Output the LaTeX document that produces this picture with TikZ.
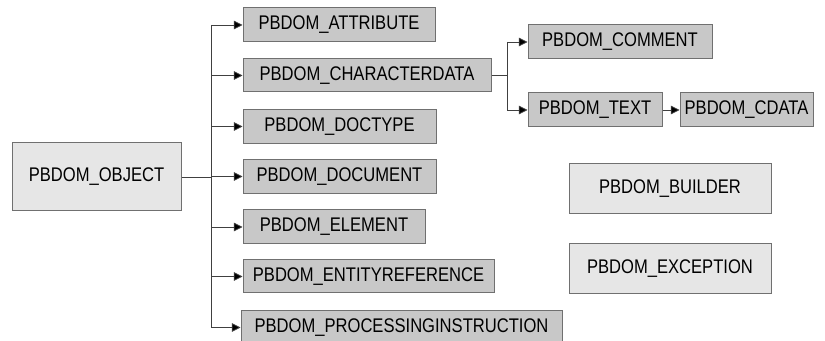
\documentclass[tikz,border=0pt]{standalone}
\usepackage{fontspec}
\setmainfont{Liberation Sans}[FakeStretch=0.84]
\usetikzlibrary{arrows.meta}
\definecolor{darkfill}{HTML}{C8C8C8}
\definecolor{lightfill}{HTML}{E6E6E6}
\definecolor{boxline}{HTML}{707070}
\definecolor{conline}{HTML}{404040}
\tikzset{
  box/.style={draw=boxline, line width=0.75pt, inner sep=0pt, font=\fontsize{14.8}{16}\selectfont, text=black},
  darkbox/.style={box, fill=darkfill},
  lightbox/.style={box, fill=lightfill},
  conn/.style={draw=conline, line width=0.6pt},
  arr/.style={conn, -{Triangle[length=6.5pt,width=6.5pt,fill=black]}},
}
\begin{document}
\begin{tikzpicture}[x=0.75pt, y=-0.75pt]
\useasboundingbox (0,0) rectangle (825,341);
\node[lightbox, minimum width=169*0.75pt, minimum height=68*0.75pt] (obj) at (96.5,177) {PBDOM\_OBJECT};
\node[darkbox, minimum width=192*0.75pt, minimum height=34*0.75pt] (attr) at (339,25) {PBDOM\_ATTRIBUTE};
\node[darkbox, minimum width=248*0.75pt, minimum height=33*0.75pt] (chd) at (367,75.5) {PBDOM\_CHARACTERDATA};
\node[darkbox, minimum width=193*0.75pt, minimum height=34*0.75pt] (dtp) at (339.5,126.5) {PBDOM\_DOCTYPE};
\node[darkbox, minimum width=193*0.75pt, minimum height=34*0.75pt] (doc) at (339.5,176.5) {PBDOM\_DOCUMENT};
\node[darkbox, minimum width=182*0.75pt, minimum height=34*0.75pt] (ele) at (334,227) {PBDOM\_ELEMENT};
\node[darkbox, minimum width=251*0.75pt, minimum height=33*0.75pt] (ent) at (368.5,276.5) {PBDOM\_ENTITYREFERENCE};
\node[darkbox, minimum width=321*0.75pt, minimum height=33*0.75pt] (pin) at (401.5,327.5) {PBDOM\_PROCESSINGINSTRUCTION};
\node[darkbox, minimum width=184*0.75pt, minimum height=34*0.75pt] (com) at (620,42) {PBDOM\_COMMENT};
\node[darkbox, minimum width=134*0.75pt, minimum height=34*0.75pt] (txt) at (595,110) {PBDOM\_TEXT};
\node[darkbox, minimum width=133*0.75pt, minimum height=34*0.75pt] (cda) at (746.5,110) {PBDOM\_CDATA};
\node[lightbox, minimum width=202*0.75pt, minimum height=50*0.75pt] (bld) at (670,189) {PBDOM\_BUILDER};
\node[lightbox, minimum width=202*0.75pt, minimum height=50*0.75pt] (exc) at (670,269) {PBDOM\_EXCEPTION};
% main tree
\coordinate (bx) at (211,0);
\draw[conn] (obj.east) -- (obj.east -| bx);
\draw[conn] (attr.west -| bx) -- (bx |- pin.west);
\foreach \n in {attr,chd,dtp,doc,ele,ent,pin}
  \draw[arr] (\n.west -| bx) -- (\n.west);
% characterdata subtree
\coordinate (cx) at (507,0);
\draw[conn] (chd.east) -- (chd.east -| cx);
\draw[conn] (com.west -| cx) -- (cx |- txt.west);
\draw[arr] (com.west -| cx) -- (com.west);
\draw[arr] (txt.west -| cx) -- (txt.west);
\draw[arr] (txt.east) -- (cda.west);
\end{tikzpicture}
\end{document}
